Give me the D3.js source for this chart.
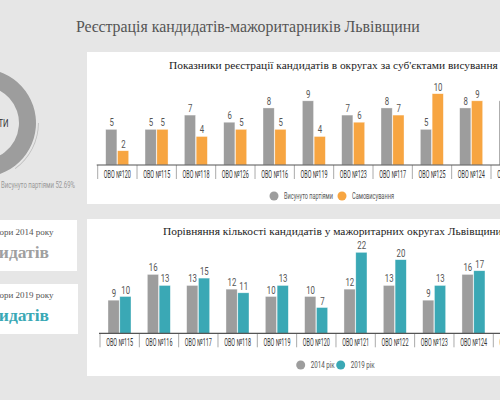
<!DOCTYPE html>
<html><head><meta charset="utf-8">
<script src="https://cdn.jsdelivr.net/npm/d3@7"></script>
<style>body{margin:0;background:#e6e6e6;overflow:hidden}svg{display:block}</style>
</head><body>
<svg id="c" width="500" height="400"></svg>
<script>
// ---- data ----
const mainTitle = "Реєстрація кандидатів-мажоритарників Львівщини";
const regTitle = "Показники реєстрації кандидатів в округах за суб'єктами висування";
const regCategories = ["ОВО №120","ОВО №115","ОВО №118","ОВО №126","ОВО №116","ОВО №119","ОВО №123","ОВО №117","ОВО №125","ОВО №124","ОВО №122"];
const regParty = [5,5,7,6,8,9,7,8,5,8,9];
const regSelf  = [2,5,4,5,5,4,6,7,10,9,11];
const regSeries = ["Висунуто партіями","Самовисування"];

const cmpTitle = "Порівняння кількості кандидатів у мажоритарних округах Львівщини";
const cmpCategories = ["ОВО №115","ОВО №116","ОВО №117","ОВО №118","ОВО №119","ОВО №120","ОВО №121","ОВО №122","ОВО №123","ОВО №124","ОВО №125"];
const cmp2014 = [9,16,13,12,10,10,12,13,9,16,null];
const cmp2019 = [10,13,15,11,13,7,22,20,13,17,15];
const cmpSeries = ["2014 рік","2019 рік"];

const donutLabels = ["Висунуто партіями","Самовисування"];
const donutValues = [52.69, 47.31];
const boxYears = ["Вибори 2014 року","Вибори 2019 року"];

// ---- drawing ----
const svg = d3.select("#c");
const SERIF = "'Liberation Serif','Times New Roman',serif";
const SANS = "Roboto,'Open Sans',sans-serif";
const GREY = "#9d9d9d", ORANGE = "#f7a541", TEAL = "#3aa8b5";

function narrow(sel, ratio){
  sel.each(function(){
    const L = this.getComputedTextLength();
    d3.select(this).attr("textLength", L*ratio).attr("lengthAdjust","spacingAndGlyphs");
  });
  return sel;
}
function fitWidth(sel, size, w){
  sel.attr("font-size", size);
  const L = sel.node().getComputedTextLength();
  sel.attr("font-size", size*w/L);
  return size*w/L;
}

svg.append("rect").attr("width",500).attr("height",400).attr("fill","#e6e6e6");

const mt = svg.append("text").attr("x",76).attr("y",32).attr("font-family",SERIF)
  .attr("fill","#555").text(mainTitle);
fitWidth(mt, 18.5, 344);

// panels
svg.append("rect").attr("x",87).attr("y",52).attr("width",430).attr("height",152).attr("fill","#fff");
svg.append("rect").attr("x",87).attr("y",219).attr("width",430).attr("height",157).attr("fill","#fff");
svg.append("rect").attr("x",-5).attr("y",220).attr("width",82).attr("height",51).attr("fill","#fff");
svg.append("rect").attr("x",-5).attr("y",284).attr("width",83).attr("height",50).attr("fill","#fff");

// boxes text
[[boxYears[0],235,"#a0a0a0",258],[boxYears[1],297.5,TEAL,320.5]].forEach(([t,y,c,y2])=>{
  svg.append("text").attr("x",53.5).attr("y",y).attr("text-anchor","end").attr("font-family",SERIF)
    .attr("font-size",9).attr("fill","#555").text(t);
  svg.append("text").attr("x",49).attr("y",y2).attr("text-anchor","end").attr("font-family",SERIF)
    .attr("font-size",17.5).attr("font-weight","bold").attr("fill",c).text("кандидатів");
});

// donut
const dg = svg.append("g").attr("transform","translate(-18,123)");
const pie = d3.pie().sort(null).value(d=>d);
const arcs = pie(donutValues);
const arc = d3.arc().innerRadius(37).outerRadius(54);
dg.selectAll("path.s").data(arcs).join("path").attr("class","s").attr("d",arc)
  .attr("fill",(d,i)=>i===0?GREY:ORANGE);
dg.append("path").attr("d",d3.arc().innerRadius(56).outerRadius(56.8)({startAngle:Math.PI*0.5,endAngle:Math.PI*0.8}))
  .attr("fill","#bdbdbd");
narrow(svg.append("text").attr("x",8.5).attr("y",127).attr("text-anchor","end").attr("font-family",SANS)
  .attr("font-size",11).attr("fill","#333").text("КАНДИДАТИ"), 0.7);
svg.append("text").attr("x",1).attr("y",188).attr("font-family",SANS).attr("font-size",9)
  .attr("fill","#999").attr("textLength",74).attr("lengthAdjust","spacingAndGlyphs")
  .text(donutLabels[0]+" "+donutValues[0]+"%");

let titleSize = null;
function barChart(o){
  const g = svg.append("g");
  const step = 39.33;
  const x = d3.scaleBand().domain(o.cats).range([o.x0, o.x0+step*o.cats.length]).padding(0);
  const x1 = d3.scaleBand().domain([0,1]).range([8, 8+23.6]).padding(0);
  const y = d3.scaleLinear().domain([0,o.ymax]).range([o.base, o.base-o.ymax*o.ppu]);
  const tt = g.append("text").attr("x",o.tx).attr("y",o.ty).attr("font-family",SERIF)
    .attr("fill","#222").text(o.title);
  if (titleSize===null) titleSize = fitWidth(tt, 13, o.tw); else tt.attr("font-size", titleSize);
  o.series.forEach((vals,si)=>{
    const data = o.cats.map((c,i)=>({c,v:vals[i]})).filter(d=>d.v!=null);
    g.selectAll(null).data(data).join("rect")
      .attr("x",d=>x(d.c)+x1(si)).attr("width",x1.bandwidth()-0.6)
      .attr("y",d=>y(d.v)).attr("height",d=>y(0)-y(d.v))
      .attr("fill",o.colors[si]).attr("stroke","#fff").attr("stroke-opacity",0.6).attr("stroke-width",0.6);
    narrow(g.selectAll(null).data(data).join("text")
      .attr("x",d=>x(d.c)+x1(si)+x1.bandwidth()/2).attr("y",d=>y(d.v)-3)
      .attr("text-anchor","middle").attr("font-family",SANS).attr("font-size",10).attr("fill","#555")
      .text(d=>d.v), 0.78);
  });
  const ax = g.append("g").attr("transform",`translate(0,${o.base})`)
    .call(d3.axisBottom(x).tickSize(0).tickPadding(6));
  ax.select(".domain").remove();
  ax.selectAll("text").attr("font-family",SANS).attr("font-size",10).attr("fill","#333")
    .attr("textLength",27).attr("lengthAdjust","spacingAndGlyphs");
  const bounds = o.cats.map(c=>x(c)).concat([x.range()[1]]);
  g.selectAll(null).data(bounds).join("line").attr("x1",d=>d).attr("x2",d=>d)
    .attr("y1",o.base).attr("y2",o.base+14).attr("stroke","#aaa").attr("stroke-width",1);
  g.append("line").attr("x1",o.x0-1).attr("x2",505).attr("y1",o.base).attr("y2",o.base)
    .attr("stroke","#555").attr("stroke-width",1.2);
  o.legend.forEach((l,i)=>{
    g.append("circle").attr("cx",l.cx).attr("cy",o.ly).attr("r",4.5).attr("fill",o.colors[i]);
    g.append("text").attr("x",l.cx+10).attr("y",o.ly+3).attr("font-family",SANS).attr("font-size",9)
      .attr("fill","#555").attr("textLength",l.w).attr("lengthAdjust","spacingAndGlyphs").text(o.names[i]);
  });
}

barChart({cats:regCategories, series:[regParty,regSelf], colors:[GREY,ORANGE], names:regSeries,
  x0:97.7, base:165, ppu:7.13, ymax:12, title:regTitle, tx:169, ty:69, tw:329, ly:196,
  legend:[{cx:274,w:49},{cx:342,w:42}]});
barChart({cats:cmpCategories, series:[cmp2014,cmp2019], colors:[GREY,TEAL], names:cmpSeries,
  x0:100, base:333.3, ppu:3.68, ymax:25, title:cmpTitle, tx:163, ty:235, tw:329, ly:365,
  legend:[{cx:300.7,w:24},{cx:340.7,w:24}]});
</script>
</body></html>
